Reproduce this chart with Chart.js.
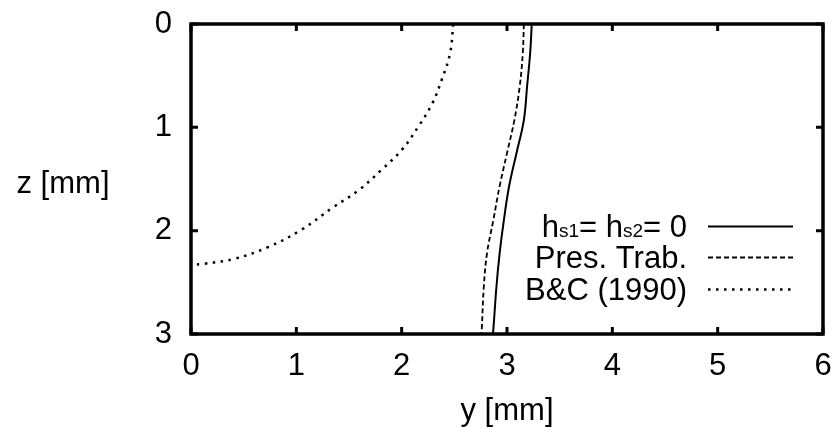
<!DOCTYPE html>
<html>
<head>
<meta charset="utf-8">
<script src="https://cdn.jsdelivr.net/npm/chart.js@4.4.0/dist/chart.umd.min.js"></script>
<style>
  html, body { margin: 0; padding: 0; background: #fff; }
  #wrap { width: 833px; height: 427px; }
</style>
</head>
<body>
<div id="wrap"><canvas id="chart" width="833" height="427"></canvas></div>
<script>
// values: y [mm] against depth z [mm]
const xTicks = [0, 1, 2, 3, 4, 5, 6];
const zTicks = [0, 1, 2, 3];

const solidY = [3.235, 3.22, 3.19, 3.16, 3.09, 3.02, 2.97, 2.93, 2.90, 2.87, 2.865];
const solidZ = [0, 0.28, 0.61, 0.93, 1.25, 1.57, 1.90, 2.22, 2.54, 2.96, 3.0];

const dashedY = [3.16, 3.15, 3.12, 3.07, 3.00, 2.93, 2.87, 2.81, 2.78, 2.76, 2.755];
const dashedZ = [0, 0.28, 0.61, 0.93, 1.25, 1.57, 1.90, 2.22, 2.54, 2.96, 3.0];

const dottedY = [2.49, 2.46, 2.38, 2.29, 2.16, 2.00, 1.81, 1.59, 1.34, 1.05, 0.73, 0.42, 0.13, 0.0];
const dottedZ = [0, 0.28, 0.54, 0.77, 0.99, 1.22, 1.41, 1.61, 1.78, 1.99, 2.16, 2.27, 2.32, 2.33];

const FONT = '"Liberation Sans", Arial, sans-serif';
const FS = 31;

function pts(xs, zs) {
  return xs.map((x, i) => ({ x: x, y: zs[i] }));
}

// frame, inward ticks, titles and the legend (gnuplot style)
const gnuplotLook = {
  id: 'gnuplotLook',
  afterDatasetsDraw(chart) {
    const ctx = chart.ctx;
    const a = chart.chartArea;
    const xs = chart.scales.x, ys = chart.scales.y;
    ctx.save();
    ctx.strokeStyle = '#000';
    ctx.lineWidth = 3;
    const tl = 7;
    xTicks.forEach(v => {
      const px = xs.getPixelForValue(v);
      ctx.beginPath();
      ctx.moveTo(px, a.bottom); ctx.lineTo(px, a.bottom - tl);
      ctx.moveTo(px, a.top); ctx.lineTo(px, a.top + tl);
      ctx.stroke();
    });
    zTicks.forEach(v => {
      const py = ys.getPixelForValue(v);
      ctx.beginPath();
      ctx.moveTo(a.left, py); ctx.lineTo(a.left + tl, py);
      ctx.moveTo(a.right, py); ctx.lineTo(a.right - tl, py);
      ctx.stroke();
    });
    ctx.lineWidth = 3.5;
    ctx.strokeRect(a.left, a.top, a.right - a.left, a.bottom - a.top);

    // axis titles
    ctx.fillStyle = '#000';
    ctx.font = FS + 'px ' + FONT;
    ctx.textAlign = 'center';
    ctx.textBaseline = 'middle';
    ctx.fillText('z [mm]', 63, 184);
    ctx.fillText('y [mm]', (a.left + a.right) / 2, 411);

    // legend
    const textRight = 687, lineL = 708, lineR = 793;
    const baselines = [237, 268, 300];
    chart.data.datasets.forEach((ds, i) => {
      const y = baselines[i];
      ctx.textBaseline = 'alphabetic';
      ctx.textAlign = 'left';
      if (i === 0) {
        // h_s1= h_s2= 0 with small subscripts
        const parts = [['h', FS], ['s1', 19], ['= h', FS], ['s2', 19], ['= 0', FS]];
        let w = 0;
        parts.forEach(p => { ctx.font = p[1] + 'px ' + FONT; w += ctx.measureText(p[0]).width; });
        let x = textRight - w;
        parts.forEach(p => {
          ctx.font = p[1] + 'px ' + FONT;
          ctx.fillText(p[0], x, y);
          x += ctx.measureText(p[0]).width;
        });
      } else {
        ctx.font = FS + 'px ' + FONT;
        ctx.textAlign = 'right';
        ctx.fillText(ds.label, textRight, y);
      }
      const ly = y - 10.5;
      ctx.beginPath();
      ctx.lineWidth = ds.borderWidth;
      ctx.setLineDash(ds.borderDash || []);
      ctx.moveTo(lineL, ly); ctx.lineTo(lineR, ly);
      ctx.stroke();
      ctx.setLineDash([]);
    });
    ctx.restore();
  }
};

new Chart(document.getElementById('chart'), {
  type: 'scatter',
  data: {
    datasets: [
      { label: 'h_s1= h_s2= 0', data: pts(solidY, solidZ), showLine: true, borderColor: '#000',
        borderWidth: 2, pointRadius: 0, tension: 0.4 },
      { label: 'Pres. Trab.', data: pts(dashedY, dashedZ), showLine: true, borderColor: '#000',
        borderWidth: 1.8, borderDash: [5, 3], pointRadius: 0, tension: 0.4 },
      { label: 'B&C (1990)', data: pts(dottedY, dottedZ), showLine: true, borderColor: '#000',
        borderWidth: 2.5, borderDash: [2.5, 5.5], pointRadius: 0, tension: 0.4 }
    ]
  },
  options: {
    responsive: false,
    animation: false,
    layout: { padding: { top: 24, right: 10, left: 0, bottom: 0 } },
    plugins: { legend: { display: false }, tooltip: { enabled: false } },
    scales: {
      x: {
        type: 'linear', min: 0, max: 6,
        grid: { display: false, drawTicks: false },
        border: { display: false },
        ticks: { stepSize: 1, color: '#000', padding: 14, font: { family: FONT, size: FS } },
        afterFit: s => { s.height = 93; s.paddingLeft = 0; s.paddingRight = 0; }
      },
      y: {
        type: 'linear', min: 0, max: 3, reverse: true,
        grid: { display: false, drawTicks: false },
        border: { display: false },
        ticks: { stepSize: 1, color: '#000', padding: 19, font: { family: FONT, size: FS } },
        afterFit: s => { s.width = 191; s.paddingTop = 0; s.paddingBottom = 0; }
      }
    }
  },
  plugins: [gnuplotLook]
});
</script>
</body>
</html>
